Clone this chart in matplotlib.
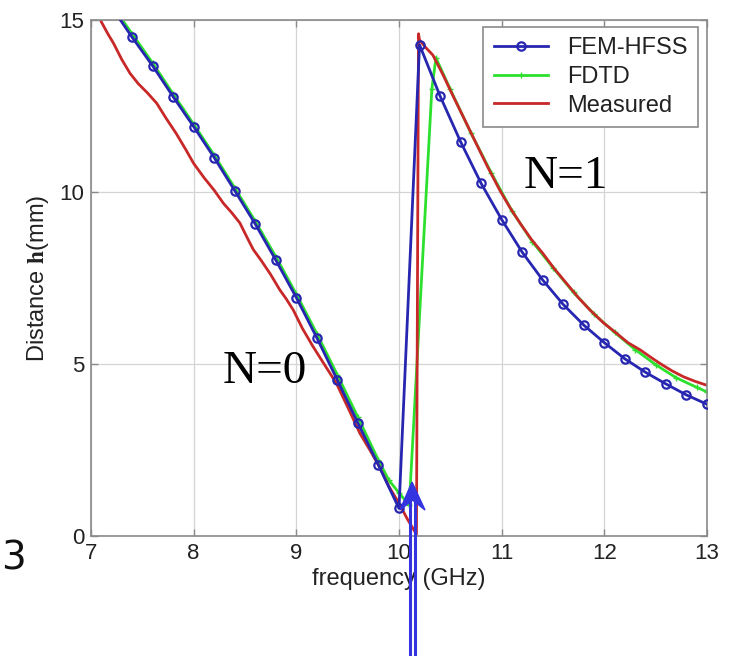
#!/usr/bin/env python
# -*- coding: utf-8 -*-
"""Distance h vs frequency: FEM-HFSS / FDTD / measured."""

import numpy as np
import matplotlib as mpl; mpl.use('Agg')
import matplotlib.pyplot as plt
from matplotlib.lines import Line2D
from matplotlib.patches import Polygon

# --- data
fem_freq = [7.2, 7.4, 7.6, 7.8, 8.0, 8.2, 8.4, 8.6, 8.8, 9.0, 9.2, 9.4,
            9.6, 9.8, 10.0,
            10.2, 10.4, 10.6, 10.8, 11.0, 11.2, 11.4, 11.6, 11.8, 12.0,
            12.2, 12.4, 12.6, 12.8, 13.0]
fem_h = [15.38, 14.50, 13.67, 12.77, 11.90, 11.00, 10.04, 9.07, 8.02, 6.93,
         5.76, 4.53, 3.28, 2.06, 0.80,
         14.28, 12.79, 11.46, 10.25, 9.20, 8.25, 7.44, 6.73, 6.13, 5.62,
         5.15, 4.76, 4.42, 4.10, 3.83]

fdtd_freq = [7.2, 7.4, 7.6, 7.8, 8.0, 8.2, 8.4, 8.6, 8.8, 9.0, 9.2, 9.4,
             9.6, 9.8, 9.9, 10.0, 10.1,
             10.32, 10.36, 10.5, 10.7, 10.9, 11.1, 11.3, 11.5, 11.7, 11.9,
             12.1, 12.3, 12.5, 12.7, 12.9, 13.0]
fdtd_h = [15.45, 14.60, 13.75, 12.85, 11.97, 11.07, 10.12, 9.15, 8.12, 7.03,
          5.88, 4.68, 3.45, 2.20, 1.63, 1.25, 0.90,
          13.00, 13.90, 12.98, 11.72, 10.55, 9.45, 8.55, 7.80, 7.08, 6.45,
          5.92, 5.42, 4.98, 4.60, 4.32, 4.19]

meas_freq = [7.05, 7.10, 7.16, 7.22, 7.30, 7.38, 7.46, 7.55, 7.64, 7.73,
             7.83, 7.92, 8.00, 8.10, 8.20, 8.29, 8.37, 8.45, 8.52, 8.58,
             8.66, 8.75, 8.84, 8.90, 8.97, 9.06, 9.16, 9.27, 9.39, 9.50,
             9.62, 9.72, 9.81, 9.90, 10.00, 10.08, 10.17,
             10.19, 10.20, 10.26, 10.33, 10.43, 10.53, 10.64, 10.75, 10.86,
             10.98, 11.08, 11.18, 11.29, 11.40, 11.51, 11.63, 11.75, 11.86,
             11.99, 12.12, 12.23, 12.35, 12.45, 12.54, 12.66, 12.77, 12.88,
             13.00]
meas_h = [15.30, 14.95, 14.62, 14.32, 13.85, 13.45, 13.15, 12.88, 12.58,
          12.15, 11.70, 11.25, 10.83, 10.42, 10.05, 9.67, 9.40, 9.10, 8.68,
          8.33, 8.00, 7.60, 7.15, 6.90, 6.57, 6.03, 5.52, 5.00, 4.44, 3.75,
          2.98, 2.48, 2.01, 1.45, 0.95, 0.50, 0.05,
          14.60, 14.42, 14.20, 13.98, 13.40, 12.77, 12.10, 11.42, 10.75,
          10.06, 9.55, 9.09, 8.62, 8.22, 7.78, 7.35, 6.92, 6.57, 6.20, 5.89,
          5.62, 5.41, 5.20, 5.02, 4.80, 4.63, 4.50, 4.38]

x_ticks = [7, 8, 9, 10, 11, 12, 13]
y_ticks = [0, 5, 10, 15]
series_labels = ['FEM-HFSS', 'FDTD', 'Measured']

W, H = 731, 656   # figure size in pixels


def fig_xy(px, py):
    """pixel (from top-left) -> figure fraction"""
    return px / W, 1 - py / H


def draw_chart(output_path="out.png"):
    plt.rcParams['font.family'] = ['Liberation Sans', 'DejaVu Sans']
    plt.rcParams['mathtext.fontset'] = 'stix'

    fig = plt.figure(figsize=(W / 100, H / 100), dpi=100)
    ax = fig.add_axes([91 / W, 1 - 536 / H, 616 / W, 516 / H])

    # --- curves
    ax.plot(fem_freq, fem_h, color='#2626b0', lw=2.0, marker='o', ms=6,
            mfc='none', mew=1.6, label=series_labels[0], zorder=3)
    ax.plot(fdtd_freq, fdtd_h, color='#2ee02e', lw=2.0, marker='+', ms=4,
            mew=1.0, label=series_labels[1], zorder=2)
    ax.plot(meas_freq, meas_h, color='#c82828', lw=2.0,
            label=series_labels[2], zorder=2.5)

    # --- axes, MATLAB look
    ax.set_xlim(7, 13)
    ax.set_ylim(0, 15)
    ax.set_xticks(x_ticks)
    ax.set_yticks(y_ticks)
    ax.grid(True, color='#d4d4d4', lw=0.9)
    ax.set_axisbelow(True)
    for sp in ax.spines.values():
        sp.set_color('#8a8a8a')
        sp.set_linewidth(1.2)
    ax.tick_params(direction='in', length=5, width=1, colors='#8a8a8a',
                   top=True, right=True, labelsize=16, labelcolor='#222222',
                   pad=5)

    ax.set_xlabel('frequency (GHz)', fontsize=17, color='#222222', labelpad=3)
    ax.set_ylabel(r'Distance $\mathbf{h}$(mm)', fontsize=17,
                  color='#222222', labelpad=6)

    leg = ax.legend(loc='upper right', bbox_to_anchor=(0.986, 0.987),
                    borderaxespad=0, fontsize=17, handlelength=2.3,
                    handletextpad=0.8, labelspacing=0.28, borderpad=0.45,
                    fancybox=False, framealpha=1, edgecolor='#8a8a8a')
    leg.get_frame().set_linewidth(1.2)
    for t in leg.get_texts():
        t.set_color('#222222')

    # --- mode labels
    ax.text(8.69, 4.77, 'N=0', fontsize=34, family='Liberation Serif',
            ha='center', va='center')
    ax.text(11.62, 10.44, 'N=1', fontsize=34, family='Liberation Serif',
            ha='center', va='center')

    # --- stray "3" at the left edge
    x0, y0 = fig_xy(1, 558)
    fig.text(x0, y0, '3', fontsize=28, family='DejaVu Sans', ha='left',
             va='center', color='#111111')

    # --- double-shaft arrow from the bottom
    arrow_c = '#3434e0'
    for px in (410, 415):
        xa, ya = fig_xy(px, 656)
        xb, yb = fig_xy(px, 502)
        fig.add_artist(Line2D([xa, xb], [ya, yb], color=arrow_c, lw=2.2,
                              transform=fig.transFigure))
    head = [fig_xy(412, 482), fig_xy(425, 510), fig_xy(412.5, 500),
            fig_xy(400, 510)]
    fig.add_artist(Polygon(head, closed=True, color=arrow_c,
                           transform=fig.transFigure))

    fig.savefig(output_path, dpi=100, facecolor='white')
    return fig, ax


if __name__ == '__main__':
    draw_chart()
